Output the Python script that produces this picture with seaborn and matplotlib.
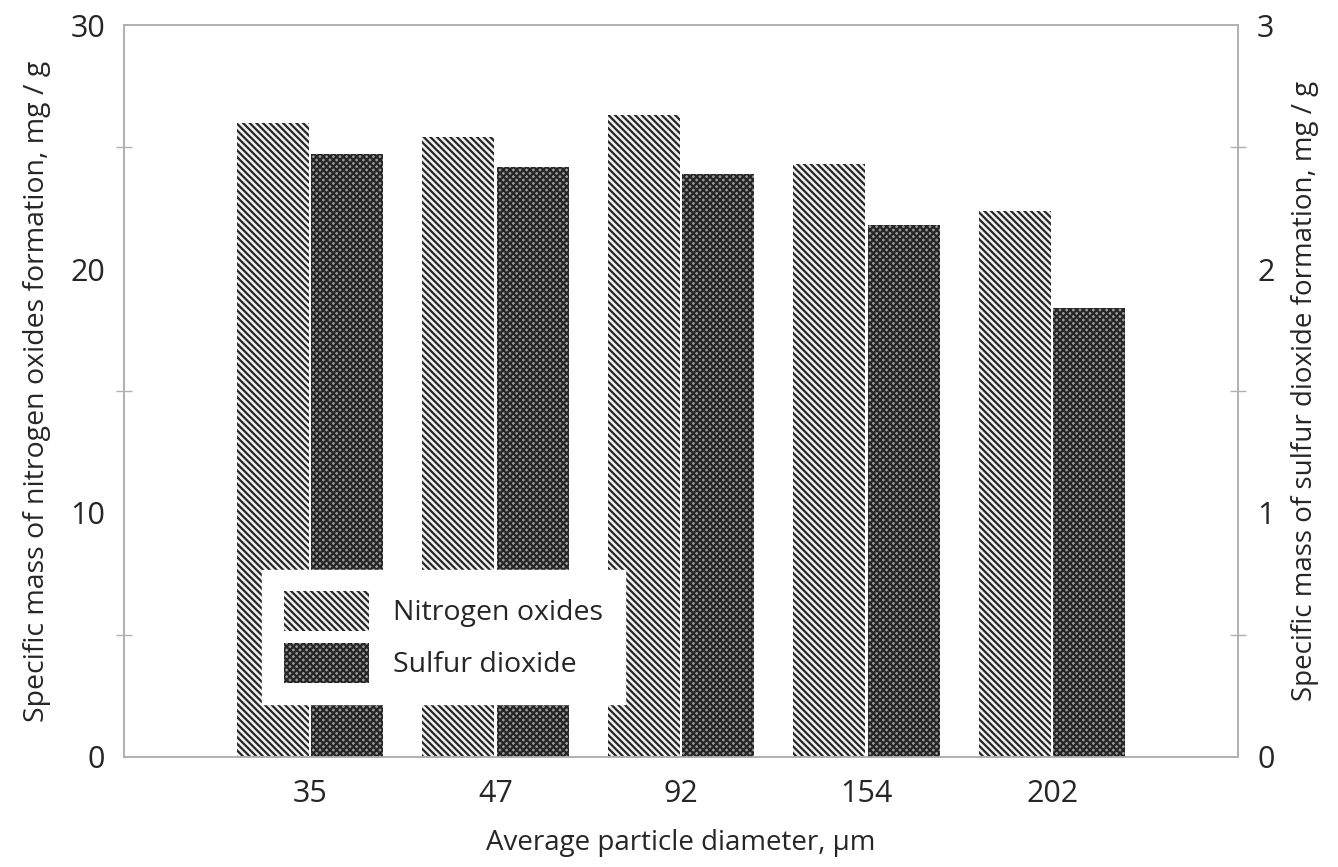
import matplotlib
matplotlib.use("Agg")
import matplotlib.pyplot as plt
import seaborn as sns
import pandas as pd
from matplotlib.ticker import MultipleLocator
from matplotlib.patches import Patch

# Messwerte
durchmesser = ["35", "47", "92", "154", "202"]
stickoxide = [26.0, 25.4, 26.3, 24.3, 22.4]       # mg/g, linke Achse
schwefeldioxid = [2.47, 2.42, 2.39, 2.18, 1.84]   # mg/g, rechte Achse
serien = ["Nitrogen oxides", "Sulfur dioxide"]

sns.set_theme(style="white")
plt.rcParams["font.family"] = ["Open Sans", "DejaVu Sans"]
plt.rcParams["hatch.linewidth"] = 1.6

farben = ["#f2f2f2", "#9a9a9a"]
schraffur = ["\\\\\\\\\\", "xxxxx"]
null = [0.0] * len(durchmesser)

# jede Achse bekommt beide Serien, die fremde mit Hoehe 0 (fuer die Dodge-Positionen)
df_links = pd.DataFrame({
    "d": durchmesser * 2,
    "wert": stickoxide + null,
    "serie": [serien[0]] * 5 + [serien[1]] * 5,
})
df_rechts = pd.DataFrame({
    "d": durchmesser * 2,
    "wert": null + schwefeldioxid,
    "serie": [serien[0]] * 5 + [serien[1]] * 5,
})

fig, ax = plt.subplots(figsize=(13.38, 8.67), dpi=100)
ax2 = ax.twinx()

for a, df in ((ax, df_links), (ax2, df_rechts)):
    sns.barplot(data=df, x="d", y="wert", hue="serie", hue_order=serien,
                order=durchmesser, palette=farben, gap=0.03,
                ax=a, legend=False)
    for i, p in enumerate(a.patches):
        k = i // len(durchmesser)
        p.set_hatch(schraffur[k])
        p.set_edgecolor("#262626")
        p.set_linewidth(0)

ax.set_xlim(-1, 5)
ax.set_ylim(0, 30)
ax2.set_ylim(0, 3)
ax.yaxis.set_major_locator(MultipleLocator(10))
ax.yaxis.set_minor_locator(MultipleLocator(5))
ax2.yaxis.set_major_locator(MultipleLocator(1))
ax2.yaxis.set_minor_locator(MultipleLocator(0.5))

for a in (ax, ax2):
    for s in a.spines.values():
        s.set_color("#b0b0b0")
        s.set_linewidth(1.2)
    a.tick_params(axis="y", which="major", length=0, labelsize=22, pad=14)
    a.tick_params(axis="y", which="minor", length=12, direction="inout",
                  color="#b0b0b0", width=1)
    a.tick_params(axis="x", length=0, labelsize=22, pad=16)

ax.set_xlabel("Average particle diameter, μm", fontsize=20, labelpad=14)
ax.set_ylabel("Specific mass of nitrogen oxides formation, mg / g", fontsize=20.5, labelpad=14)
ax2.set_ylabel("Specific mass of sulfur dioxide formation, mg / g", fontsize=20, labelpad=12)

handles = [Patch(facecolor=farben[k], edgecolor="#262626", hatch=schraffur[k], linewidth=0)
           for k in range(2)]
ax2.legend(handles, serien, loc="lower left", bbox_to_anchor=(0.124, 0.072),
           fontsize=20.5, frameon=True, fancybox=False, framealpha=1,
           edgecolor="white", handlelength=3.0, handleheight=1.8,
           borderpad=0.75, labelspacing=0.4, handletextpad=0.85,
           borderaxespad=0)

fig.subplots_adjust(left=0.093, right=0.925, top=0.971, bottom=0.127)
fig.savefig("out.png", dpi=100)
